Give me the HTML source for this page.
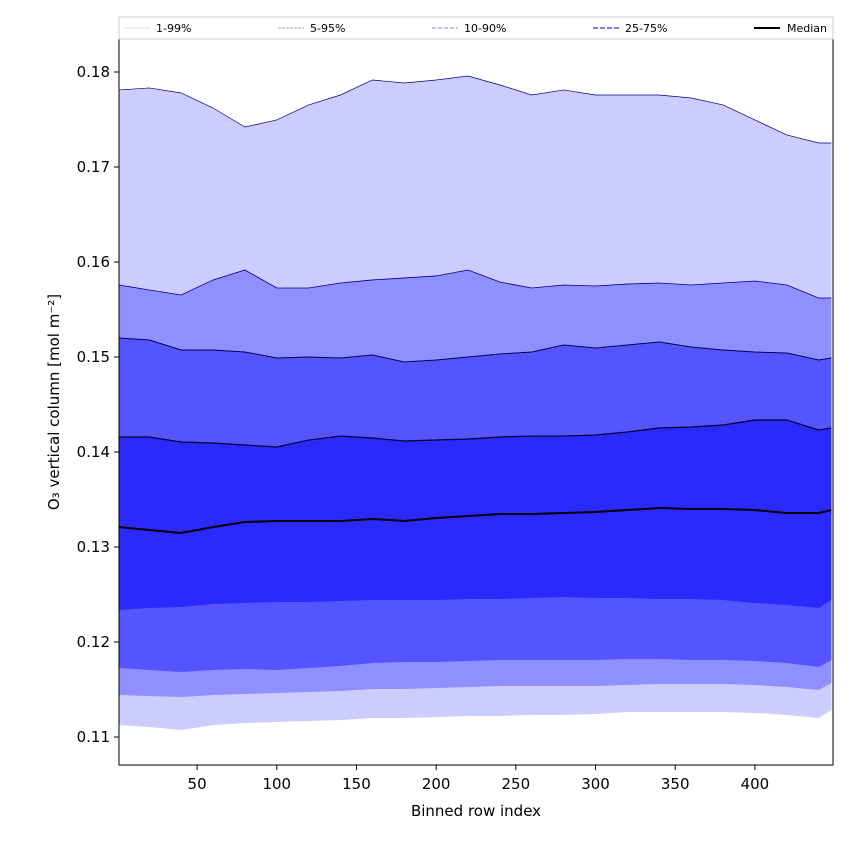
<!DOCTYPE html>
<html><head><meta charset="utf-8"><style>
html,body{margin:0;padding:0;background:#fff;}
svg{display:block;font-family:"DejaVu Sans","Liberation Sans",sans-serif;}
</style></head><body>
<svg id="chart" width="850" height="850" viewBox="0 0 850 850">
<g id="bands"></g>
<g id="lines"></g>
<rect x="119" y="39" width="714" height="726" fill="none" stroke="#000" stroke-width="1"/>
<g id="xticks"></g>
<g id="yticks"></g>
<text x="476" y="816" font-size="15" text-anchor="middle">Binned row index</text>
<text transform="translate(59,402) rotate(-90)" font-size="15" text-anchor="middle">O₃ vertical column [mol m⁻²]</text>
<g>
<rect x="119" y="17" width="714" height="22" fill="#fff" stroke="#ccc"/>
<g><line x1="124" y1="28" x2="150" y2="28" stroke="#ddd" stroke-width="1"/><text x="156" y="32" font-size="11">1-99%</text></g>
<g><line x1="278" y1="28" x2="304" y2="28" stroke="#aaa" stroke-width="1" stroke-dasharray="3,1"/><text x="310" y="32" font-size="11">5-95%</text></g>
<g><line x1="432" y1="28" x2="458" y2="28" stroke="#9999ee" stroke-width="1.2" stroke-dasharray="4,2"/><text x="464" y="32" font-size="11">10-90%</text></g>
<g><line x1="593" y1="28" x2="619" y2="28" stroke="#5555ee" stroke-width="1.5" stroke-dasharray="5,2"/><text x="625" y="32" font-size="11">25-75%</text></g>
<g><line x1="754" y1="28" x2="780" y2="28" stroke="#000" stroke-width="2"/><text x="787" y="32" font-size="11">Median</text></g>
</g>
</svg>
<script>
const rows=[1,20,40,60,80,100,120,140,160,180,200,220,240,260,280,300,320,340,360,380,400,420,440,448];
const p99=[.17811,.17832,.17779,.17621,.17421,.17495,.17653,.17758,.17916,.17884,.17916,.17958,.17863,.17758,.17811,.17758,.17758,.17758,.17726,.17653,.17495,.17337,.17253,.17253];
const p95=[.15758,.15705,.15653,.15811,.15916,.15726,.15726,.15779,.15811,.15832,.15853,.15916,.15789,.15726,.15758,.15747,.15768,.15779,.15758,.15779,.158,.15758,.15621,.15621];
const p90=[.152,.15179,.15074,.15074,.15053,.1499,.15,.1499,.15021,.14947,.14968,.15,.15032,.15053,.15126,.15095,.15126,.15158,.15105,.15074,.15053,.15042,.14968,.1499];
const p75=[.14158,.14158,.14105,.14095,.14074,.14053,.14126,.14168,.14147,.14116,.14126,.14137,.14158,.14168,.14168,.14179,.14211,.14253,.14263,.14284,.14337,.14337,.14232,.14253];
const p50=[.1321,.13179,.13147,.1321,.13263,.13274,.13274,.13274,.13295,.13274,.13305,.13326,.13347,.13347,.13358,.13368,.13389,.1341,.134,.134,.13389,.13358,.13358,.13389];
const p25=[.12337,.12358,.12368,.124,.12411,.12421,.12421,.12432,.12442,.12442,.12442,.12453,.12453,.12463,.12474,.12463,.12463,.12453,.12453,.12442,.12411,.12389,.12358,.12442];
const p10=[.11726,.11705,.11684,.11705,.11716,.11705,.11726,.11747,.11779,.11789,.11789,.118,.11811,.11811,.11811,.11811,.11821,.11821,.11811,.11811,.118,.11779,.11737,.11811];
const p5=[.11442,.11432,.11421,.11442,.11453,.11463,.11474,.11484,.11505,.11505,.11516,.11526,.11537,.11537,.11537,.11537,.11547,.11558,.11558,.11558,.11547,.11526,.11495,.11568];
const p1=[.11126,.11105,.11074,.11126,.11147,.11158,.11168,.11179,.112,.112,.11211,.11221,.11221,.11232,.11232,.11242,.11263,.11263,.11263,.11263,.11253,.11232,.112,.11284];
const xTicks=[50,100,150,200,250,300,350,400];
const yTicks=[0.11,0.12,0.13,0.14,0.15,0.16,0.17,0.18];
const X0=119,X1=833,xmin=1,xmax=449;
const sx=v=>X0+(v-xmin)/(xmax-xmin)*(X1-X0);
const sy=v=>72+(0.18-v)*9500;
const NS="http://www.w3.org/2000/svg";
function pts(arr){return rows.map((r,i)=>sx(r).toFixed(2)+","+sy(arr[i]).toFixed(2));}
const bandsG=document.getElementById('bands');
function band(up,lo,col){
 const p=document.createElementNS(NS,'polygon');
 p.setAttribute('points',pts(up).concat(pts(lo).reverse()).join(' '));
 p.setAttribute('fill',col);
 
 bandsG.appendChild(p);
}
band(p99,p1,'#ccccff');

band(p95,p5,'#8f8fff');

band(p90,p10,'#5555ff');

band(p75,p25,'#2a2aff');

const linesG=document.getElementById('lines');
function line(arr,col,w){
 const l=document.createElementNS(NS,'polyline');
 l.setAttribute('points',pts(arr).join(' '));
 l.setAttribute('fill','none');l.setAttribute('stroke',col);l.setAttribute('stroke-width',w);
 linesG.appendChild(l);return l;
}
let l;
l=line(p99,'#000080',0.7);


l=line(p95,'#000080',0.8);


l=line(p90,'#000050',1);


l=line(p75,'#000030',1.2);


l=line(p50,'#000',2);


const xg=document.getElementById('xticks');
xTicks.forEach(t=>{
 const x=sx(t);
 const tk=document.createElementNS(NS,'line');
 tk.setAttribute('x1',x);tk.setAttribute('x2',x);tk.setAttribute('y1',765);tk.setAttribute('y2',770);tk.setAttribute('stroke','#000');
 
 
 xg.appendChild(tk);
 const tx=document.createElementNS(NS,'text');
 tx.setAttribute('x',x);tx.setAttribute('y',789);tx.setAttribute('font-size','15');tx.setAttribute('text-anchor','middle');
 tx.textContent=t;
 
 
 xg.appendChild(tx);
});
const yg=document.getElementById('yticks');
yTicks.forEach(t=>{
 const y=sy(t);
 const tk=document.createElementNS(NS,'line');
 tk.setAttribute('x1',114);tk.setAttribute('x2',119);tk.setAttribute('y1',y);tk.setAttribute('y2',y);tk.setAttribute('stroke','#000');
 
 
 yg.appendChild(tk);
 const tx=document.createElementNS(NS,'text');
 tx.setAttribute('x',110);tx.setAttribute('y',y+5);tx.setAttribute('font-size','15');tx.setAttribute('text-anchor','end');
 tx.textContent=t.toFixed(2);
 
 
 yg.appendChild(tx);
});
</script>
</body></html>
